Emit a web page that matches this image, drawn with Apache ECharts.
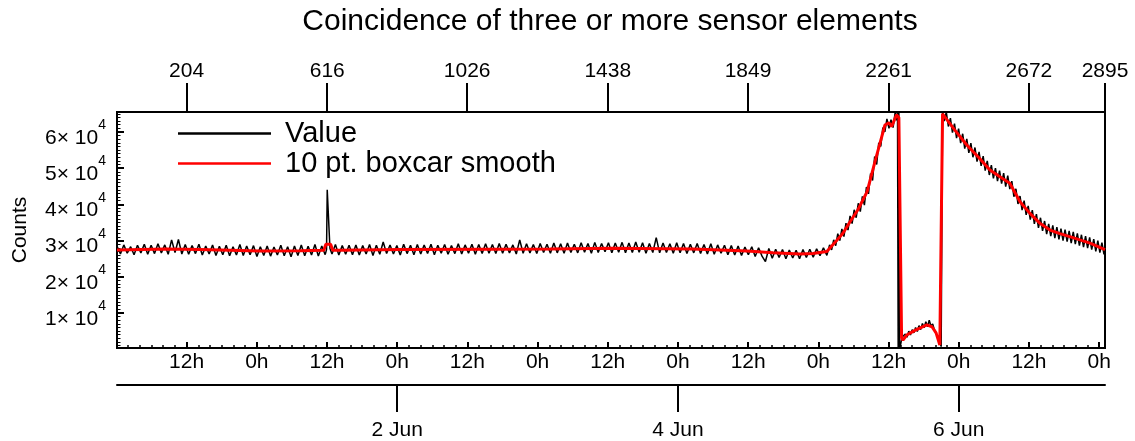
<!DOCTYPE html>
<html>
<head>
<meta charset="utf-8">
<script src="https://cdn.jsdelivr.net/npm/echarts@6/dist/echarts.min.js"></script>
<style>
html,body{margin:0;padding:0;background:#fff;}
#chart{width:1135px;height:441px;}
</style>
</head>
<body>
<div id="chart"></div>
<script>
// ---- data (sample index, counts) ----
const titleText = 'Coincidence of three or more sensor elements';
const topTickIndices = [204, 616, 1026, 1438, 1849, 2261, 2672, 2895];
const hourTicks = [12, 24, 36, 48, 60, 72, 84, 96, 108, 120, 132, 144, 156, 168];
const dateTicks = [48, 96, 144];
const dateLabels = {48: '2 Jun', 96: '4 Jun', 144: '6 Jun'};
const countTicks = [10000, 20000, 30000, 40000, 50000, 60000];
const seriesNames = ['Value', '10 pt. boxcar smooth'];

// flat part of the raw values, one value every 10 samples from index 0 to 2080
// (the entry at index 620 is replaced by the spike below)
const valueFlat = [
 28500,26300,28800,26500,28300,26100,28700,26600,29000,26200,
 28700,26400,29100,26600,28800,26200,30200,26700,30300,26300,
 28900,26200,28600,26400,29000,26000,28500,26300,28800,25900,
 28400,26100,28700,25800,28300,26000,28900,25900,28500,26100,
 28600,25600,28300,25900,28500,25700,28200,26000,28700,25800,
 28300,25500,28500,25900,28800,25800,28400,26000,28900,25700,
 28500,26100,27300,26300,28900,26000,28600,26200,28700,26100,
 28800,26000,28600,26300,28900,25900,28700,26200,29600,26400,
 28800,26300,28600,26000,29000,26400,28700,26100,28900,26300,
 28800,26400,29000,26100,28700,26500,28900,26200,28600,26400,
 29100,26300,28800,26500,29000,26200,28900,26400,29100,26500,
 28900,26400,29200,26500,29000,26600,28800,26300,30200,26500,
 29100,26600,28900,26400,29200,26700,29000,26500,29300,26600,
 29100,26500,29300,26700,29000,26600,29400,26800,29200,26500,
 29500,26700,29200,26900,29400,26600,29300,26800,29500,26600,
 29300,26700,29600,26800,29400,26500,29200,26700,30800,26600,
 29300,26700,29100,26500,29400,26600,29200,26400,29000,26600,
 29200,26400,28900,26300,29100,26200,28800,26500,28700,26100,
 28600,26000,28500,25900,28200,26100,28300,25600,28000,25700,
 24200,27800,25100,27600,25300,27500,25000,27400,25200,27300,
 25000,27500,25300,27600,25400,27700,25800,28000,25900
];
// spike of the raw values near index 616
const valueSpike = [[614,27500],[616,44000],[621,44000],[624,27800]];
// raw values after the flat part
const valueStorm = [
 [2088,28800],[2094,27400],[2100,30200],[2106,28600],[2112,31900],[2118,30000],[2124,33200],[2130,31100],[2136,34800],[2142,32900],
 [2148,36800],[2154,34700],[2160,38500],[2166,36300],[2172,40300],[2178,38000],[2184,42200],[2190,39800],[2196,44800],[2202,42900],
 [2208,48500],[2214,46600],[2220,53200],[2226,51000],[2232,57000],[2238,56000],[2244,61200],[2250,60000],[2256,63600],[2262,61000],
 [2268,63400],[2274,61200],[2280,65300],[2284,63200],[2287,66000],[2289,330],[2291,66000],[2293,330],
 [2296,1200],[2300,3300],[2305,2800],[2310,4200],[2315,3300],[2320,5000],[2325,3900],[2330,5400],[2335,4500],[2340,6000],
 [2345,4900],[2350,6500],[2355,5400],[2360,7100],[2365,5900],[2370,7600],[2375,6200],[2380,8000],[2385,6400],[2390,7000],
 [2395,5400],[2400,5200],[2405,3300],[2410,2300],[2415,700],[2417,330],[2419,66000],
 [2424,63000],[2430,65500],[2436,61500],[2442,63800],[2448,59800],[2454,62300],[2460,58300],[2466,60900],[2472,56900],[2478,59500],
 [2484,55400],[2490,58100],[2496,54200],[2502,56900],[2508,53000],[2514,55700],[2520,51800],[2526,54500],[2532,50600],[2538,53300],
 [2544,49300],[2550,52000],[2556,48100],[2562,50800],[2568,47200],[2574,50000],[2580,46400],[2586,49300],[2592,45700],[2598,48600],
 [2604,44900],[2610,47900],[2616,44200],[2622,46400],[2628,42100],[2634,44300],[2640,40100],[2646,42300],[2652,38400],[2658,41000],
 [2664,37100],[2670,39600],[2676,35800],[2682,38400],[2688,34600],[2694,37300],[2700,33500],[2706,36300],[2712,32700],[2718,35400],
 [2724,31800],[2730,34600],[2736,31200],[2742,34200],[2748,30700],[2754,33700],[2760,30300],[2766,33300],[2772,30000],[2778,33000],
 [2784,29700],[2790,32700],[2796,29300],[2802,32400],[2808,29000],[2814,32000],[2820,28600],[2826,31600],[2832,28200],[2838,31200],
 [2844,27900],[2850,30900],[2856,27500],[2862,30400],[2868,27000],[2874,30000],[2880,26700],[2886,29400],[2892,26200],[2895,28000]
];

const smoothData = [
 [0,27400],[146,27700],[243,27500],[419,27100],[536,27200],[606,27300],[612,29000],[626,29000],[632,27300],[653,27300],
 [829,27500],[1093,27600],[1269,27700],[1453,27900],[1688,27700],[1846,27100],[1922,26650],[2001,26300],[2039,26400],[2080,27000],
 [2104,29500],[2127,32000],[2148,35200],[2171,38500],[2198,43500],[2221,51800],[2236,57000],[2250,61900],[2262,62500],[2270,61500],
 [2284,64700],[2291,64000],[2299,3100],[2303,2500],[2314,3900],[2338,5200],[2373,6700],[2388,6200],[2400,4500],[2411,1160],
 [2419,65000],[2423,64700],[2455,60500],[2490,56400],[2529,52500],[2558,49500],[2587,47600],[2616,45800],[2646,40700],[2675,37500],
 [2704,34800],[2734,32900],[2763,31900],[2801,30800],[2851,29300],[2895,27500]
];

// build raw series points [index, counts]
const valueData = [];
valueFlat.forEach((v, i) => {
  const idx = i * 10;
  if (idx === 620) { valueSpike.forEach(p => valueData.push(p)); return; }
  valueData.push([idx, v]);
});
valueStorm.forEach(p => valueData.push(p));
valueData.sort((a, b) => a[0] - b[0]);

const minorHourTicks = [];
for (let h = 2; h <= 168; h += 2) if (h % 12 !== 0) minorHourTicks.push(h);
const minorCountTicks = [];
for (let c = 1000; c <= 65000; c += 1000) if (c % 10000 !== 0) minorCountTicks.push(c);

const FONT = 'Liberation Sans, Arial, Helvetica, sans-serif';
const chart = echarts.init(document.getElementById('chart'), null, {renderer: 'canvas'});
const hourMin = 0.1, hourMax = 169;

chart.setOption({
  animation: false,
  backgroundColor: '#fff',
  textStyle: {fontFamily: FONT, color: '#000'},
  graphic: [{
    type: 'text', x: 610, y: 22,
    style: {text: titleText, textAlign: 'center', textVerticalAlign: 'middle',
      font: '30px ' + FONT, fill: '#000'}
  }],
  legend: {
    orient: 'vertical', left: 178, top: 119, itemGap: 1, padding: 0,
    icon: 'rect', itemWidth: 93, itemHeight: 2.5,
    textStyle: {fontSize: 29, fontFamily: FONT, color: '#000', padding: [0, 0, 0, 9]},
    data: seriesNames
  },
  grid: {left: 117, right: 30, top: 112, bottom: 93, show: true, borderColor: '#000', borderWidth: 2, containLabel: false},
  xAxis: [
    {
      type: 'value', position: 'top', min: 0, max: 2895,
      axisLine: {show: true, lineStyle: {color: '#000', width: 2}},
      axisTick: {show: true, inside: false, length: 29, lineStyle: {color: '#000', width: 2}, customValues: topTickIndices},
      axisLabel: {show: true, margin: 30, fontSize: 21, fontFamily: FONT, color: '#000', customValues: topTickIndices,
        formatter: v => String(Math.round(v))},
      splitLine: {show: false}
    },
    {
      type: 'value', position: 'bottom', min: hourMin, max: hourMax,
      axisLine: {show: true, lineStyle: {color: '#000', width: 2}},
      axisTick: {show: true, inside: true, length: 6, lineStyle: {color: '#000', width: 2}, customValues: hourTicks},
      axisLabel: {show: true, margin: 4, fontSize: 21, fontFamily: FONT, color: '#000', customValues: hourTicks,
        formatter: v => (Math.round(v) % 24 === 0 ? '0h' : '12h')},
      splitLine: {show: false}
    },
    {
      type: 'value', position: 'bottom', min: hourMin, max: hourMax,
      axisLine: {show: false},
      axisTick: {show: true, inside: true, length: 3, lineStyle: {color: '#000', width: 1.5}, customValues: minorHourTicks},
      axisLabel: {show: false},
      splitLine: {show: false}
    },
    {
      type: 'value', position: 'bottom', offset: 37, min: hourMin, max: hourMax,
      axisLine: {show: true, lineStyle: {color: '#000', width: 2}},
      axisTick: {show: true, inside: false, length: 27, lineStyle: {color: '#000', width: 2}, customValues: dateTicks},
      axisLabel: {show: true, margin: 35, fontSize: 21, fontFamily: FONT, color: '#000', customValues: dateTicks,
        formatter: v => dateLabels[Math.round(v)] || ''},
      splitLine: {show: false}
    }
  ],
  yAxis: [
    {
      type: 'value', min: 330, max: 65500, position: 'left',
      name: 'Counts', nameLocation: 'middle', nameGap: 86, nameRotate: 90,
      nameTextStyle: {fontSize: 21, fontFamily: FONT, color: '#000'},
      axisLine: {show: true, lineStyle: {color: '#000', width: 2}},
      axisTick: {show: true, inside: true, length: 7, lineStyle: {color: '#000', width: 2}, customValues: countTicks},
      axisLabel: {show: true, margin: 11, customValues: countTicks,
        formatter: v => '{a|' + Math.round(v / 10000) + '× 10}{s|4}',
        rich: {
          a: {fontSize: 21, fontFamily: FONT, color: '#000', padding: [12, 0, 0, 0]},
          s: {fontSize: 14, fontFamily: FONT, color: '#000', verticalAlign: 'top', padding: [3, 0, 0, 0]}
        }},
      splitLine: {show: false}
    },
    {
      type: 'value', min: 330, max: 65500, position: 'left',
      axisLine: {show: false},
      axisTick: {show: true, inside: true, length: 3.5, lineStyle: {color: '#000', width: 1}, customValues: minorCountTicks},
      axisLabel: {show: false},
      splitLine: {show: false}
    }
  ],
  series: [
    {
      name: seriesNames[0], type: 'line', xAxisIndex: 0, yAxisIndex: 0, data: valueData,
      showSymbol: false, symbol: 'none', lineStyle: {color: '#000', width: 1.5}, itemStyle: {color: '#000'}, z: 2
    },
    {
      name: seriesNames[1], type: 'line', xAxisIndex: 0, yAxisIndex: 0, data: smoothData,
      showSymbol: false, symbol: 'none', lineStyle: {color: '#ff0000', width: 3}, itemStyle: {color: '#ff0000'}, z: 3
    }
  ]
});
</script>
</body>
</html>
